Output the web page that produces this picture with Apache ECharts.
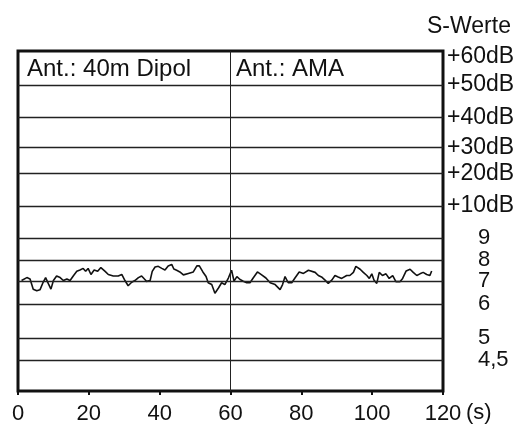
<!DOCTYPE html>
<html>
<head>
<meta charset="utf-8">
<script src="https://cdn.jsdelivr.net/npm/echarts@6/dist/echarts.min.js"></script>
<style>
  html, body { margin: 0; padding: 0; background: #fff; }
  #main { width: 519px; height: 425px; }
</style>
</head>
<body>
<div id="main"></div>
<script>
// Skala rechts (S-Werte), Position der Linien im Diagramm (nicht linear)
var levelLabels = ['', '4,5', '5', '6', '7', '8', '9', '+10dB', '+20dB', '+30dB', '+40dB', '+50dB', '+60dB'];
var levelS      = [4, 4.5, 5, 6, 7, 8, 9, 10.67, 12.33, 14, 15.67, 17.33, 19];
var levelPos    = [0, 31, 53.5, 87.5, 110.5, 131.5, 154, 186, 219, 245, 275, 308, 342];

// x-Achse
var xTicks = [0, 20, 40, 60, 80, 100, 120];
var switchTime = 60;
var antennas = ['Ant.: 40m Dipol', 'Ant.: AMA'];

// Messung: Zeit (s) und S-Wert
var times = [1.0, 2.5, 3.4, 4.3, 5.3, 6.2, 7.1, 7.8, 8.6, 9.3, 10.0, 10.9, 11.9, 12.8, 13.8, 14.7,
  15.6, 16.6, 17.5, 18.4, 19.1, 19.8, 20.6, 21.5, 22.5, 23.4, 24.6, 25.5, 26.9, 28.3, 29.3, 30.2,
  31.1, 32.1, 33.0, 34.0, 34.9, 35.7, 36.3, 37.3, 37.9, 38.7, 39.6, 40.6, 41.5,
  42.4, 43.4, 44.0, 44.8, 45.7, 46.7, 48.1, 49.5, 50.5, 51.2, 52.2, 53.1, 53.7, 54.7, 55.6, 56.6,
  57.5, 58.4, 59.4, 60.3, 61.0, 61.8, 62.7, 63.6, 64.6, 65.5, 66.4, 67.6, 68.8, 70.0, 71.2, 72.6,
  74.0, 74.7, 75.4, 76.3, 77.3, 78.2, 79.4, 80.6, 82.0,
  83.9, 84.8, 85.7, 86.7, 87.6, 88.6, 89.5, 90.4, 91.4, 92.8, 93.7, 94.7, 95.4, 96.6, 97.5, 98.5,
  99.2, 99.9, 100.5, 101.3, 102.0, 102.9, 103.9, 104.8, 105.8, 106.7, 107.9, 108.6, 109.6, 110.7,
  111.6, 112.6, 113.5, 114.4, 115.4, 116.3, 116.8];
var sValues = [7.03, 7.17, 7.10, 6.65, 6.58, 6.62, 6.95, 7.17, 6.88, 6.65, 7.03, 7.25, 7.17, 7.03, 7.10, 7.03,
  7.25, 7.47, 7.53, 7.61, 7.47, 7.61, 7.32, 7.53, 7.47, 7.65, 7.47, 7.32, 7.25, 7.25, 7.32, 7.03,
  6.80, 6.95, 7.03, 7.17, 7.25, 7.10, 6.99, 7.03, 7.47, 7.68, 7.71, 7.61, 7.53,
  7.73, 7.80, 7.58, 7.52, 7.44, 7.30, 7.37, 7.44, 7.73, 7.73, 7.44, 7.22, 6.93, 6.85, 6.47, 6.70,
  6.93, 6.85, 7.15, 7.52, 7.00, 7.22, 7.08, 7.00, 6.93, 6.93, 7.15, 7.44, 7.30, 7.15, 6.93, 6.85,
  6.63, 6.85, 7.22, 6.93, 6.93, 7.15, 7.44, 7.37, 7.52,
  7.42, 7.27, 7.20, 7.05, 6.90, 7.05, 7.27, 7.20, 7.13, 7.27, 7.27, 7.42, 7.71, 7.57, 7.42, 7.27,
  7.13, 7.35, 7.05, 6.90, 7.42, 7.27, 7.35, 7.13, 7.27, 6.98, 6.98, 7.13, 7.49, 7.57,
  7.42, 7.27, 7.35, 7.42, 7.32, 7.27, 7.49];

// S-Wert -> Position auf der Skala
function toPos(s) {
    for (var i = 0; i < levelS.length - 1; i++) {
        if (s <= levelS[i + 1]) {
            var f = (s - levelS[i]) / (levelS[i + 1] - levelS[i]);
            return levelPos[i] + f * (levelPos[i + 1] - levelPos[i]);
        }
    }
    return levelPos[levelPos.length - 1];
}

var lineData = times.map(function (t, i) { return [t, toPos(sValues[i])]; });

var font = 'Liberation Sans, Arial, sans-serif';
var txtStyle = { fontFamily: font, fontSize: 24, fontWeight: 'normal', color: '#111' };
var chart = echarts.init(document.getElementById('main'));

chart.setOption({
    animation: false,
    title: [
        { text: antennas[0], left: 22, top: 52, textStyle: txtStyle },
        { text: antennas[1], left: 231, top: 52, textStyle: txtStyle },
        // Achsentitel
        { text: 'S-Werte', left: 422, top: 10, textStyle: { fontFamily: font, fontSize: 23, fontWeight: 'normal', color: '#111' } },
        { text: '(s)', left: 461, top: 397, textStyle: { fontFamily: font, fontSize: 22, fontWeight: 'normal', color: '#111' } }
    ],
    grid: {
        left: 18, right: 76, top: 51, bottom: 32,
        show: true, borderColor: '#111', borderWidth: 3
    },
    xAxis: {
        type: 'value',
        min: 0, max: 120, interval: 20,
        axisLine: { show: false },
        axisTick: { show: true, inside: false, length: 4, lineStyle: { color: '#111', width: 2 } },
        axisLabel: {
            showMinLabel: true, showMaxLabel: true,
            margin: 12, fontFamily: font, fontSize: 22, color: '#111',
            customValues: xTicks
        },
        splitLine: { show: false }
    },
    yAxis: {
        type: 'value',
        position: 'right',
        min: 0, max: levelPos[levelPos.length - 1],
        axisLine: { show: false },
        axisTick: { show: false },
        splitLine: { show: false },
        axisLabel: {
            margin: 4,
            fontFamily: font, fontSize: 23, color: '#111',
            customValues: levelPos.slice(1),
            formatter: function (v) {
                var i = levelPos.indexOf(v);
                if (i < 0) return '';
                var txt = levelLabels[i];
                if (i === levelPos.length - 1) return '{t|' + txt + '}';
                if (txt.indexOf('dB') < 0) return '{n|' + txt + '}';
                return txt;
            },
            rich: {
                n: { fontFamily: font, fontSize: 22, color: '#111', padding: [0, 0, 0, 31] },
                t: { fontFamily: font, fontSize: 23, color: '#111', padding: [11, 0, 0, 0] }
            }
        }
    },
    series: [
        {
            type: 'line',
            data: lineData,
            showSymbol: false,
            lineStyle: { color: '#111', width: 1.6 },
            z: 3,
            markLine: {
                silent: true,
                symbol: 'none',
                label: { show: false },
                lineStyle: { color: '#222', width: 1.3, type: 'solid' },
                data: levelPos.slice(1, levelPos.length - 1).map(function (p) { return { yAxis: p }; })
                    .concat([{ xAxis: switchTime, lineStyle: { width: 1, color: '#222' } }])
            }
        }
    ]
});
</script>
</body>
</html>
